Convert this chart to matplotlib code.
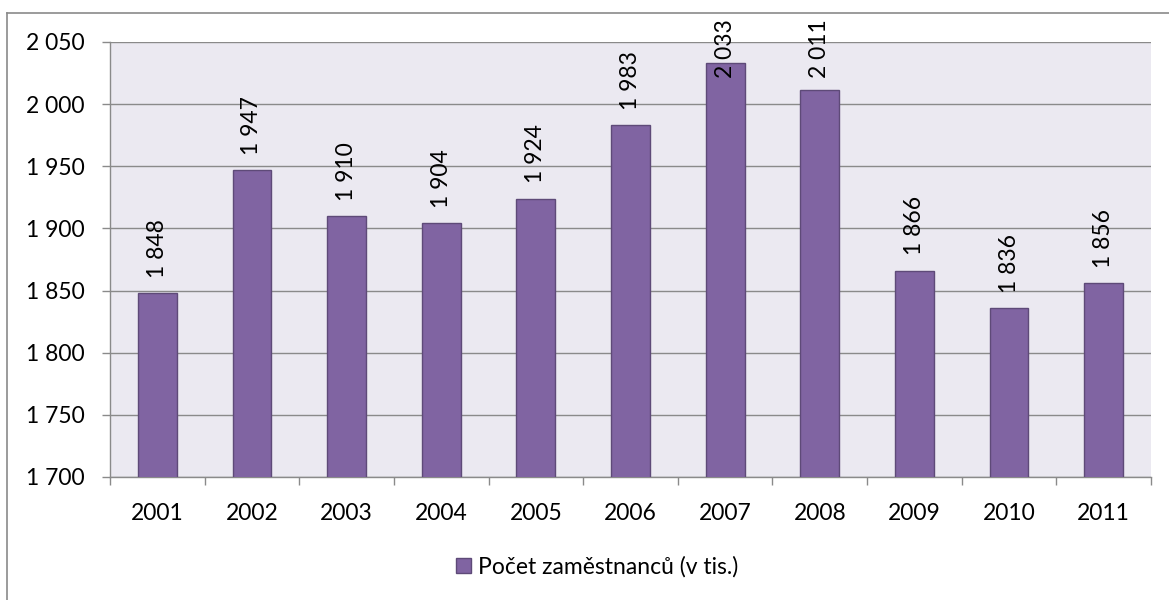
import numpy as np
import matplotlib.pyplot as plt
from matplotlib.lines import Line2D

plt.rcParams['font.family'] = ['Lato', 'DejaVu Sans']

# data
years = ['2001', '2002', '2003', '2004', '2005', '2006', '2007', '2008', '2009', '2010', '2011']
values = [1848, 1947, 1910, 1904, 1924, 1983, 2033, 2011, 1866, 1836, 1856]
series_name = 'Počet zaměstnanců (v tis.)'
yticks = [1700, 1750, 1800, 1850, 1900, 1950, 2000, 2050]

def fmt(v):
    # czech thousands separator
    return '{:,}'.format(v).replace(',', ' ')

FS = 16.5
W, H = 1169, 600
fig = plt.figure(figsize=(W / 100, H / 100), dpi=100)
ax = fig.add_axes([110 / W, 1 - 477 / H, (1151 - 110) / W, (477 - 42) / H])
ax.set_facecolor('#EBE9F1')

x = np.arange(len(years))
bars = ax.bar(x, values, width=0.41, color='#8064A2', edgecolor='#5E4A78',
              linewidth=1, zorder=3, label=series_name)

ax.set_xlim(-0.5, len(years) - 0.5)
ax.set_ylim(1700, 2050)
ax.set_yticks(yticks)
ax.set_yticklabels([fmt(t) for t in yticks])
ax.yaxis.grid(True, color='#8A8A8A', linewidth=1, zorder=1)

ax.set_xticks(x)
ax.set_xticklabels(years)
ax.set_xticks(np.arange(len(years) + 1) - 0.5, minor=True)
ax.tick_params(axis='x', which='major', length=0, pad=19, labelsize=FS)
ax.tick_params(axis='x', which='minor', length=6, width=1, color='#8A8A8A', direction='out')
ax.tick_params(axis='y', length=6, width=1, color='#8A8A8A', pad=12, labelsize=FS)

for s in ['top', 'right']:
    ax.spines[s].set_visible(False)
for s in ['left', 'bottom']:
    ax.spines[s].set_color('#8A8A8A')
    ax.spines[s].set_linewidth(1)

anns = []
for xi, v in zip(x, values):
    a = ax.annotate(fmt(v), xy=(xi, v), xytext=(0, 11), textcoords='offset points',
                    rotation=90, ha='center', va='bottom', fontsize=FS,
                    annotation_clip=False, zorder=4)
    anns.append(a)

# keep labels inside the chart area, like excel does
fig.canvas.draw()
r = fig.canvas.get_renderer()
top_lim = fig.bbox.height - 19
for a in anns:
    bb = a.get_window_extent(r)
    if bb.y1 > top_lim:
        dx, dy = a.xyann
        a.xyann = (dx, dy - (bb.y1 - top_lim) * 72 / fig.dpi)

fig.legend(handles=[bars], labels=[series_name], loc='center',
           bbox_to_anchor=(597 / W, 1 - 567 / H), frameon=False,
           fontsize=FS, handlelength=0.65, handleheight=0.65, handletextpad=0.3)

# chart border
fig.add_artist(Line2D([7 / W, 7 / W], [0, 1 - 13 / H], color='#8A8A8A', lw=1.2))
fig.add_artist(Line2D([7 / W, 1], [1 - 13 / H, 1 - 13 / H], color='#8A8A8A', lw=1.2))

fig.savefig('out.png', dpi=100)
